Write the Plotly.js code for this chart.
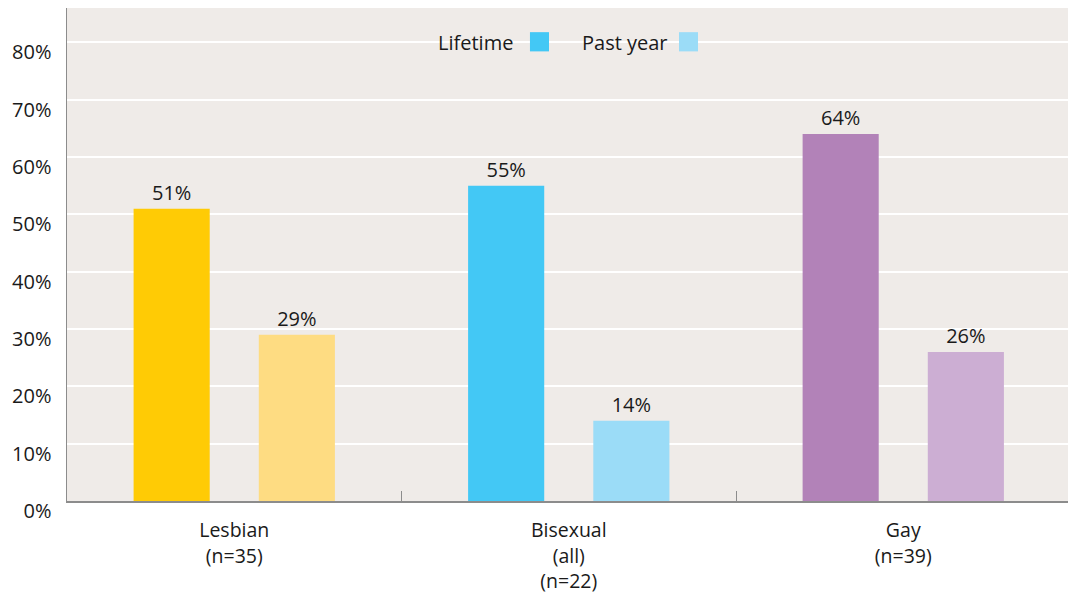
<!DOCTYPE html>
<html>
<head>
<meta charset="utf-8">
<script src="https://cdn.plot.ly/plotly-3.0.1.min.js"></script>
<style>html,body{margin:0;padding:0;background:#fff;}#chart{width:1068px;height:599px;}</style>
</head>
<body>
<div id="chart"></div>
<script>
const categories = ["Lesbian<br>(n=35)", "Bisexual<br>(all)<br>(n=22)", "Gay<br>(n=39)"];
const lifetime = [51, 55, 64];
const pastYear = [29, 14, 26];
const lifetimeColors = ["#FFCB05", "#43C8F5", "#B282B8"];
const pastYearColors = ["#FEDC82", "#9BDCF7", "#CCAED3"];
const legendNames = ["Lifetime", "Past year"];
const legendColors = ["#43C8F5", "#9BDCF7"];
const yTicks = [0, 10, 20, 30, 40, 50, 60, 70, 80];

const FONT = "'Open Sans', Lato, sans-serif";
const labelFont = {family: FONT, size: 20, color: "#1a1a1a"};
const catFont = {family: FONT, size: 19.5, color: "#1a1a1a"};

const traces = [
  {type: "bar", name: legendNames[0], x: categories, y: lifetime,
   marker: {color: lifetimeColors}, text: lifetime.map(v => v + "%"),
   textposition: "outside", textfont: labelFont, cliponaxis: false, showlegend: false, hoverinfo: "skip"},
  {type: "bar", name: legendNames[1], x: categories, y: pastYear,
   marker: {color: pastYearColors}, text: pastYear.map(v => v + "%"),
   textposition: "outside", textfont: labelFont, cliponaxis: false, showlegend: false, hoverinfo: "skip"}
];

// Legend drawn as text + swatch (text to the left of its swatch as in the reference)
const legTextRight = [0.4476, 0.6024];
const legSwatch = [[0.4625, 0.4815], [0.6114, 0.6304]];
const annotations = legendNames.map((n, i) => ({
  xref: "paper", yref: "paper", x: legTextRight[i], y: 0.931, xanchor: "right", yanchor: "middle",
  text: n, showarrow: false, font: labelFont
}));
const shapes = legendColors.map((c, i) => ({
  type: "rect", xref: "paper", yref: "paper", x0: legSwatch[i][0], x1: legSwatch[i][1],
  y0: 0.912, y1: 0.951, fillcolor: c, line: {width: 0}
}));

const layout = {
  width: 1068, height: 599,
  margin: {l: 67, r: 0, t: 8, b: 98},
  paper_bgcolor: "#ffffff", plot_bgcolor: "#EFEBE8",
  barmode: "group", bargap: 0.2515, bargroupgap: 0.392,
  showlegend: false,
  font: labelFont,
  xaxis: {
    type: "category", range: [-0.5, 2.4925], tickson: "boundaries", ticks: "inside", ticklen: 10, tickwidth: 1,
    tickcolor: "#8c8c8c", showline: true, linecolor: "#8c8c8c", linewidth: 2,
    showgrid: false, tickfont: catFont, ticklabelstandoff: 11, fixedrange: true
  },
  yaxis: {
    range: [0, 86], tickvals: yTicks, ticktext: yTicks.map(v => v + "%"),
    showgrid: true, gridcolor: "#ffffff", gridwidth: 2, zeroline: false,
    showline: true, linecolor: "#8c8c8c", linewidth: 1.5,
    ticks: "", ticklabelstandoff: 10, ticklabelshift: 10, tickfont: labelFont, fixedrange: true
  },
  annotations: annotations,
  shapes: shapes
};

Plotly.newPlot("chart", traces, layout, {displayModeBar: false, staticPlot: true});
</script>
</body>
</html>
